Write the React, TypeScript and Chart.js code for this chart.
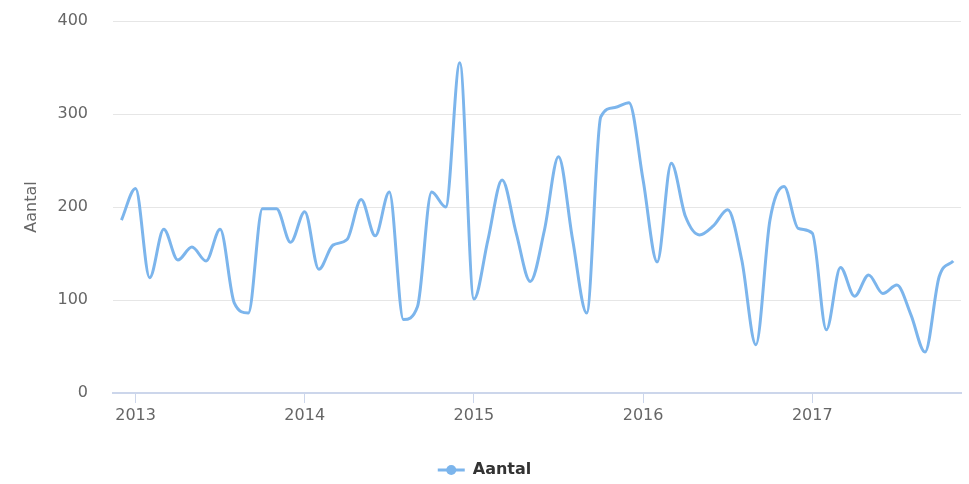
import React, { useEffect, useRef } from "react";
import { Chart, registerables } from "chart.js";

Chart.register(...registerables);

// Months from Dec 2012 to Nov 2017
const months: string[] = [
  "2012-12",
  "2013-01", "2013-02", "2013-03", "2013-04", "2013-05", "2013-06",
  "2013-07", "2013-08", "2013-09", "2013-10", "2013-11", "2013-12",
  "2014-01", "2014-02", "2014-03", "2014-04", "2014-05", "2014-06",
  "2014-07", "2014-08", "2014-09", "2014-10", "2014-11", "2014-12",
  "2015-01", "2015-02", "2015-03", "2015-04", "2015-05", "2015-06",
  "2015-07", "2015-08", "2015-09", "2015-10", "2015-11", "2015-12",
  "2016-01", "2016-02", "2016-03", "2016-04", "2016-05", "2016-06",
  "2016-07", "2016-08", "2016-09", "2016-10", "2016-11", "2016-12",
  "2017-01", "2017-02", "2017-03", "2017-04", "2017-05", "2017-06",
  "2017-07", "2017-08", "2017-09", "2017-10", "2017-11",
];

const aantal: number[] = [
  186,
  220, 124, 176, 143, 157, 142, 176, 97, 86, 198, 198, 162,
  195, 133, 159, 165, 208, 169, 216, 79, 93, 216, 200, 355,
  101, 165, 229, 172, 120, 175, 254, 165, 86, 297, 307, 312,
  229, 141, 247, 190, 170, 180, 197, 143, 52, 186, 222, 177,
  172, 68, 135, 104, 127, 107, 116, 84, 44, 125, 142,
];

const yearLabels: string[] = ["2013", "2014", "2015", "2016", "2017"];
const yTicks: number[] = [0, 100, 200, 300, 400];
const seriesName = "Aantal";
const axisTitle = "Aantal";

const FONT = '"DejaVu Sans", "Open Sans", sans-serif';
const LINE_COLOR = "#7cb5ec";

const legendPlugin = {
  id: "hcLegend",
  afterDraw(chart: any) {
    const ctx = chart.ctx as CanvasRenderingContext2D;
    ctx.save();
    ctx.font = `bold 16px ${FONT}`;
    const tw = ctx.measureText(seriesName).width;
    const symW = 27;
    const gap = 8;
    const total = symW + gap + tw;
    const x0 = chart.width / 2 - total / 2;
    const y = 470;
    ctx.strokeStyle = LINE_COLOR;
    ctx.lineWidth = 3;
    ctx.beginPath();
    ctx.moveTo(x0, y);
    ctx.lineTo(x0 + symW, y);
    ctx.stroke();
    ctx.fillStyle = LINE_COLOR;
    ctx.beginPath();
    ctx.arc(x0 + symW / 2, y, 5, 0, Math.PI * 2);
    ctx.fill();
    ctx.fillStyle = "#333333";
    ctx.textBaseline = "middle";
    ctx.textAlign = "left";
    ctx.fillText(seriesName, x0 + symW + gap, y);
    ctx.restore();
  },
};

export default function App() {
  const canvasRef = useRef<HTMLCanvasElement | null>(null);

  useEffect(() => {
    document.body.style.margin = "0";
    const canvas = canvasRef.current;
    if (!canvas) return;
    const yearTickValues = yearLabels.map((y) => months.indexOf(`${y}-01`));

    const chart = new Chart(canvas, {
      type: "line",
      data: {
        datasets: [
          {
            label: seriesName,
            data: aantal.map((v, i) => ({ x: i, y: v })),
            borderColor: LINE_COLOR,
            backgroundColor: LINE_COLOR,
            borderWidth: 3,
            pointRadius: 0,
            fill: false,
            cubicInterpolationMode: "monotone",
          },
        ],
      },
      options: {
        animation: false,
        responsive: false,
        layout: { padding: { top: 21, right: 8, left: 0, bottom: 0 } },
        plugins: {
          legend: { display: false },
          tooltip: { enabled: false },
        },
        scales: {
          x: {
            type: "linear",
            min: -0.6,
            max: months.length - 1 + 0.55,
            afterBuildTicks: (scale: any) => {
              scale.ticks = yearTickValues.map((v) => ({ value: v }));
            },
            afterFit: (scale: any) => {
              scale.height = 91;
            },
            ticks: {
              autoSkip: false,
              maxRotation: 0,
              padding: 3,
              color: "#666666",
              font: { family: FONT, size: 16 },
              callback: (value: any) => {
                const idx = yearTickValues.indexOf(Number(value));
                return idx >= 0 ? yearLabels[idx] : "";
              },
            },
            grid: {
              drawOnChartArea: false,
              drawTicks: true,
              tickLength: 10,
              tickColor: "#ccd6eb",
              tickWidth: 1,
            },
            border: { display: true, color: "#ccd6eb", width: 2 },
          },
          y: {
            type: "linear",
            min: 0,
            max: 400,
            afterBuildTicks: (scale: any) => {
              scale.ticks = yTicks.map((v) => ({ value: v }));
            },
            afterFit: (scale: any) => {
              scale.width = 113;
              scale.paddingTop = 0;
              scale.paddingBottom = 0;
            },
            ticks: {
              padding: 25,
              color: "#666666",
              font: { family: FONT, size: 16 },
            },
            grid: {
              color: "#e6e6e6",
              lineWidth: 1,
              drawTicks: false,
            },
            border: { display: false },
            title: {
              display: true,
              text: axisTitle,
              color: "#666666",
              font: { family: FONT, size: 16 },
              padding: { top: 22, bottom: 0 },
            },
          },
        },
      },
      plugins: [legendPlugin],
    });

    return () => {
      chart.destroy();
    };
  }, []);

  return (
    <div style={{ width: 969, height: 484, background: "#ffffff" }}>
      <canvas ref={canvasRef} width={969} height={484} />
    </div>
  );
}
